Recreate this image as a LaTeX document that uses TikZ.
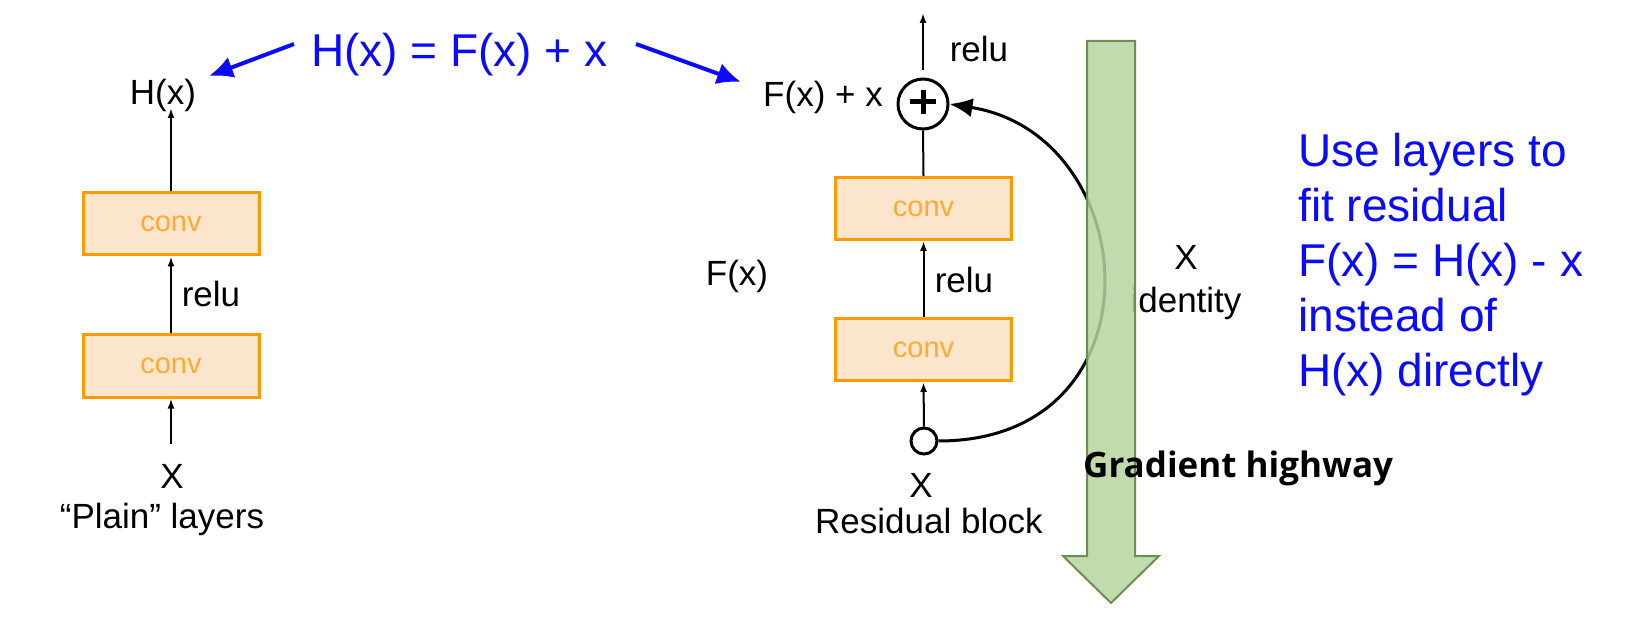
\documentclass[tikz,border=0pt]{standalone}
\usepackage{fontspec}
\setmainfont{Liberation Sans}
\newfontfamily\gfont{Open Sans}
\usetikzlibrary{arrows.meta}
\definecolor{convline}{HTML}{FF9900}
\definecolor{convfill}{HTML}{FCE5CD}
\definecolor{convtext}{HTML}{FFAA33}
\definecolor{grfill}{HTML}{B6D3A0}
\definecolor{grline}{HTML}{6B9150}
\definecolor{bluetext}{HTML}{0A0AFF}
\tikzset{
  lbl/.style={font=\fontsize{35}{40}\selectfont, inner sep=0pt, anchor=base},
  blu/.style={font=\fontsize{46}{52}\selectfont, text=bluetext, inner sep=0pt, anchor=base west},
  convbox/.style={draw=convline, line width=3pt, fill=convfill, minimum width=176pt, minimum height=62pt, text=convtext, font=\fontsize{29}{32}\selectfont, inner sep=0pt},
  arr/.style={-{Latex[length=10pt,width=7pt]}, line width=2pt},
  bluarr/.style={-{Latex[length=24pt,width=22pt]}, line width=4pt, draw=bluetext},
  plusnode/.style={circle, draw, line width=3pt, minimum size=50pt, inner sep=0pt},
  smallnode/.style={circle, draw, line width=3pt, minimum size=26pt, inner sep=0pt, fill=white}
}
\begin{document}
\begin{tikzpicture}[x=1pt,y=-1pt]
\useasboundingbox (0,0) rectangle (1650,628);
% ---------- plain layers ----------
\node[lbl] (hx) at (163,105) {H(x)};
\node[convbox] (c1) at (171,224) {conv};
\node[convbox] (c2) at (171,366) {conv};
\node[lbl] (relu1) at (211,307) {relu};
\node[lbl] (xl) at (172,488) {X};
\node[lbl] (plain) at (162,528) {“Plain” layers};
\draw[arr] (c1.north) -- (c1.north |- 0,108);
\draw[arr] (c2.north) -- (c1.south);
\coordinate (xlin) at (171,444);
\draw[arr] (xlin) -- (c2.south);
% ---------- formula ----------
\node[blu] (form) at (311,67) {H(x) = F(x) + x};
\coordinate (la) at (294,44);
\coordinate (lt) at (209,76);
\coordinate (ra) at (636,44);
\coordinate (rt) at (741,82);
\draw[bluarr] (la) -- (lt);
\draw[bluarr] (ra) -- (rt);
% ---------- residual block ----------
\node[plusnode] (plus) at (923,104) {};
\draw[line width=5pt] ([yshift=2pt]plus.center) ++(-13,0) -- ++(26,0);
\draw[line width=5pt] ([yshift=2pt]plus.center) ++(0,-12) -- ++(0,24);
\node[lbl] (fxx) at (823,107) {F(x) + x};
\node[lbl] (relu2) at (979,62) {relu};
\coordinate (top) at (923,13);
\draw[arr] (923,70) -- (top);
\node[convbox] (r1) at (923.5,208.5) {conv};
\node[convbox] (r2) at (923.5,349.5) {conv};
\node[lbl] (relu3) at (964,293) {relu};
\node[lbl] (fx) at (737,286) {F(x)};
\node[smallnode] (sc) at (924,441) {};
\draw[line width=2pt] (r1.north) -- (plus.south);
\draw[arr] (r2.north) -- (r1.south);
\draw[arr] (sc.north) -- (r2.south);
\draw[line width=3pt, -{Latex[length=23pt,width=19pt]}] (sc.east) .. controls (1165,441) and (1145,135) .. (plus.east);
\node[lbl] (xr) at (1186,270) {X};
\node[lbl] (ident) at (1186,313) {identity};
\node[lbl] (xb) at (921,497) {X};
\node[lbl] (resb) at (929,533) {Residual block};
% ---------- gradient highway ----------
\path[fill=grfill, fill opacity=0.85, draw=grline, line width=2pt]
  (1087,41) -- (1135,41) -- (1135,556) -- (1159,556) -- (1111,603) -- (1063,556) -- (1087,556) -- cycle;
\node[font=\gfont\bfseries\fontsize{35}{40}\selectfont, inner sep=0pt, anchor=base west] (grad) at (1083,477) {Gradient highway};
% ---------- right text ----------
\node[blu] (b1) at (1298,167) {Use layers to};
\node[blu] (b2) at (1298,222) {fit residual};
\node[blu] (b3) at (1298,277) {F(x) = H(x) - x};
\node[blu] (b4) at (1298,332) {instead of};
\node[blu] (b5) at (1298,387) {H(x) directly};
\end{tikzpicture}
\end{document}
